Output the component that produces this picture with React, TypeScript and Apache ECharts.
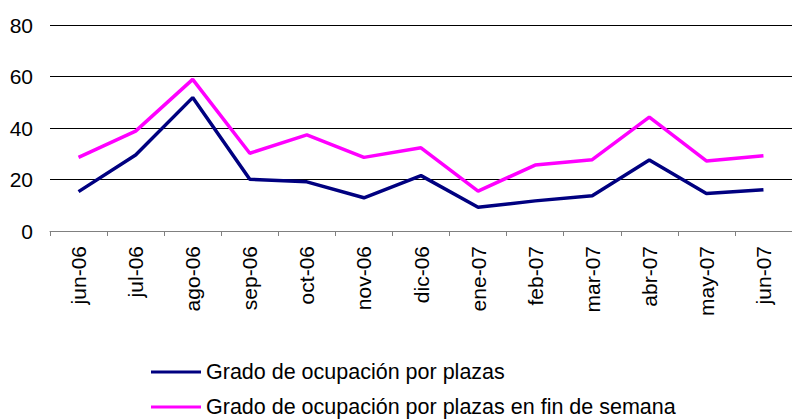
import React, { useEffect, useRef } from "react";
import * as echarts from "echarts";

const categories = ["jun-06", "jul-06", "ago-06", "sep-06", "oct-06", "nov-06", "dic-06", "ene-07", "feb-07", "mar-07", "abr-07", "may-07", "jun-07"];
const plazas = [15.3, 29.5, 51.8, 20.1, 19.1, 12.9, 21.5, 9.2, 11.7, 13.7, 27.6, 14.6, 16.0];
const plazasFinSemana = [28.6, 38.8, 58.9, 30.2, 37.3, 28.6, 32.3, 15.5, 25.6, 27.7, 44.2, 27.2, 29.2];
const seriesNames = ["Grado de ocupación por plazas", "Grado de ocupación por plazas en fin de semana"];
const yTicks = { min: 0, max: 80, interval: 20 };

export default function App() {
  const ref = useRef<HTMLDivElement>(null);
  useEffect(() => {
    document.body.style.margin = "0";
    const chart = echarts.init(ref.current!, null, { renderer: "svg" });
    const font = "Liberation Sans, Arial, sans-serif";
    const legendBase = {
      orient: "horizontal",
      left: 151,
      padding: 0,
      icon: "rect",
      itemWidth: 50,
      itemHeight: 3,
      itemGap: 5,
      textStyle: { color: "#000", fontSize: 21.5, lineHeight: 22, fontFamily: font },
    };
    chart.setOption({
      animation: false,
      backgroundColor: "#ffffff",
      grid: { left: 50, right: 0, top: 25, bottom: 188, containLabel: false },
      xAxis: {
        type: "category",
        data: categories,
        boundaryGap: true,
        axisLine: { show: true, lineStyle: { color: "#808080", width: 1 } },
        axisTick: { show: true, length: 5, lineStyle: { color: "#808080" } },
        axisLabel: { rotate: 90, margin: 15, color: "#000", fontSize: 21, fontFamily: font },
        splitLine: { show: false },
      },
      yAxis: {
        type: "value",
        min: yTicks.min,
        max: yTicks.max,
        interval: yTicks.interval,
        axisLine: { show: false },
        axisTick: { show: false },
        axisLabel: { margin: 17, color: "#000", fontSize: 21, fontFamily: font },
        splitLine: { show: true, lineStyle: { color: "#000", width: 1 } },
      },
      legend: [
        { ...legendBase, top: 361, data: [seriesNames[0]] },
        { ...legendBase, top: 396, data: [seriesNames[1]] },
      ],
      series: [
        {
          name: seriesNames[0],
          type: "line",
          data: plazas,
          symbol: "none",
          lineStyle: { color: "#000080", width: 3.5 },
          itemStyle: { color: "#000080" },
        },
        {
          name: seriesNames[1],
          type: "line",
          data: plazasFinSemana,
          symbol: "none",
          lineStyle: { color: "#ff00ff", width: 3.5 },
          itemStyle: { color: "#ff00ff" },
        },
      ],
    });
    return () => chart.dispose();
  }, []);
  return <div ref={ref} style={{ width: 792, height: 419 }} />;
}
